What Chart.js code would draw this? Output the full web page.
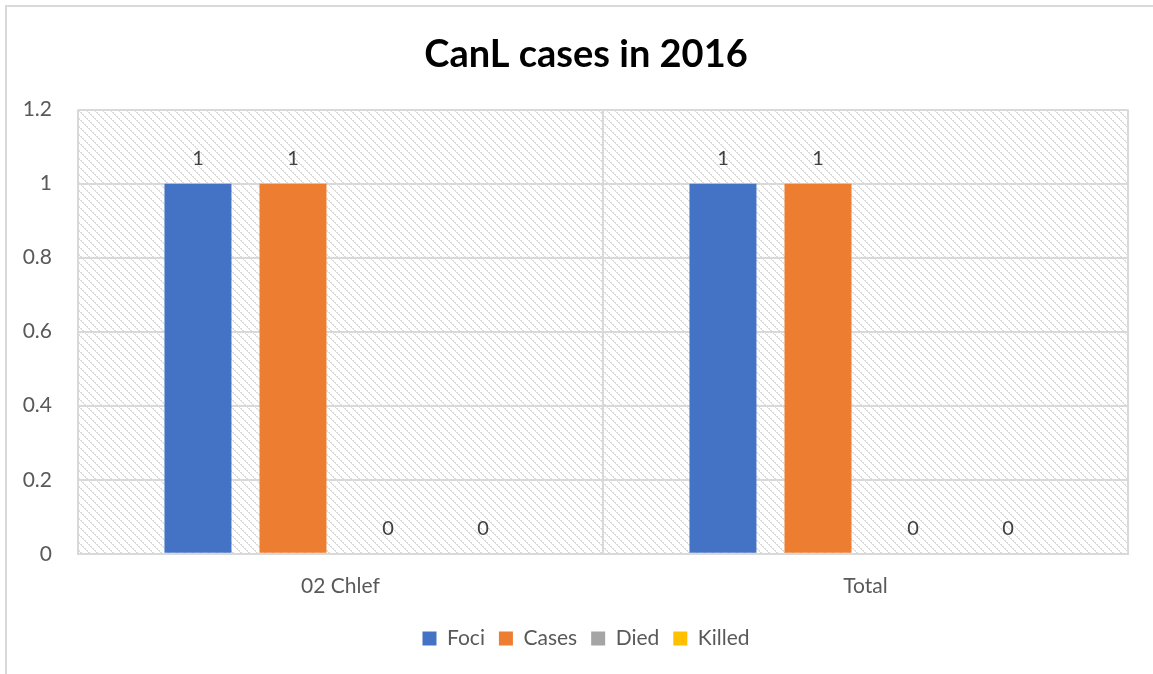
<!DOCTYPE html>
<html>
<head>
<meta charset="utf-8">
<script src="https://cdn.jsdelivr.net/npm/chart.js@4.4.0/dist/chart.umd.min.js"></script>
<style>
  html, body { margin: 0; padding: 0; background: #fff; overflow: hidden; }
  #frame { position: absolute; left: 5px; top: 5px; width: 1200px; height: 700px;
           border-top: 2px solid #d9d9d9; border-left: 2px solid #d9d9d9; }
  #wrap { position: absolute; left: 0; top: 0; width: 1153px; height: 674px; }
</style>
</head>
<body>
<div id="frame"></div>
<div id="wrap"><canvas id="chart"></canvas></div>
<script>
const categories = ['02 Chlef', 'Total'];
const foci = [1, 1];
const cases = [1, 1];
const died = [0, 0];
const killed = [0, 0];
const yTicks = [0, 0.2, 0.4, 0.6, 0.8, 1, 1.2];

const FONT = 'Lato, "Open Sans", sans-serif';

// hatched plot background, like the Excel pattern fill
function makeHatch() {
    const c = document.createElement('canvas');
    c.width = 8; c.height = 8;
    const g = c.getContext('2d');
    g.fillStyle = '#ffffff';
    g.fillRect(0, 0, 8, 8);
    g.fillStyle = '#dcdcdc';
    for (let i = 0; i < 8; i++) {
        g.fillRect(i, i, 1, 1);
        if (i % 2 === 0) g.fillRect((i + 1) % 8, i, 1, 1);
    }
    return g.createPattern(c, 'repeat');
}

const hatchBackground = {
    id: 'hatchBackground',
    afterLayout(chart) {
        // let the y labels spill into the left padding instead of being clipped
        chart.scales.y.left = 0;
    },
    beforeDraw(chart) {
        const { ctx, chartArea } = chart;
        ctx.save();
        ctx.fillStyle = makeHatch();
        ctx.fillRect(chartArea.left, chartArea.top, chartArea.right - chartArea.left, chartArea.bottom - chartArea.top);
        ctx.restore();
    }
};

const valueLabels = {
    id: 'valueLabels',
    afterDatasetsDraw(chart) {
        const ctx = chart.ctx;
        ctx.save();
        ctx.font = '20px ' + FONT;
        ctx.fillStyle = '#404040';
        ctx.textAlign = 'center';
        ctx.textBaseline = 'middle';
        chart.data.datasets.forEach((ds, i) => {
            const meta = chart.getDatasetMeta(i);
            meta.data.forEach((bar, j) => {
                ctx.fillText(String(ds.data[j]), bar.x, bar.y - 25);
            });
        });
        ctx.restore();
    }
};

new Chart(document.getElementById('chart'), {
    type: 'bar',
    data: {
        labels: categories,
        datasets: [
            { label: 'Foci', data: foci, backgroundColor: '#4472C4' },
            { label: 'Cases', data: cases, backgroundColor: '#ED7D31' },
            { label: 'Died', data: died, backgroundColor: '#A5A5A5' },
            { label: 'Killed', data: killed, backgroundColor: '#FFC000' }
        ]
    },
    options: {
        responsive: true,
        maintainAspectRatio: false,
        animation: false,
        categoryPercentage: 0.724,
        barPercentage: 0.705,
        layout: { padding: { left: 44, right: 25, top: 8, bottom: 15 } },
        plugins: {
            title: {
                display: true,
                text: 'CanL cases in 2016',
                color: '#000',
                font: { family: FONT, size: 38, weight: 'bold' },
                padding: { top: 24, bottom: 32 }
            },
            legend: {
                position: 'bottom',
                labels: {
                    color: '#595959',
                    font: { family: FONT, size: 21 },
                    boxWidth: 14,
                    boxHeight: 14,
                    padding: 14
                }
            },
            tooltip: { enabled: false }
        },
        scales: {
            x: {
                grid: { color: '#d9d9d9', lineWidth: 2, offset: true, drawTicks: false },
                border: { display: true, color: '#d9d9d9', width: 2 },
                ticks: { color: '#595959', font: { family: FONT, size: 21 }, padding: 20 },
                afterFit(axis) { axis.height -= 5; }
            },
            y: {
                min: 0,
                max: 1.2,
                afterBuildTicks(axis) { axis.ticks = yTicks.map(v => ({ value: v })); },
                afterFit(axis) { axis.width = 34; },
                grid: { color: '#d9d9d9', lineWidth: 2, drawTicks: false },
                border: { display: false },
                ticks: {
                    color: '#595959',
                    font: { family: FONT, size: 21 },
                    padding: 26,
                    callback: v => String(v)
                }
            }
        }
    },
    plugins: [hatchBackground, valueLabels]
});
</script>
</body>
</html>
